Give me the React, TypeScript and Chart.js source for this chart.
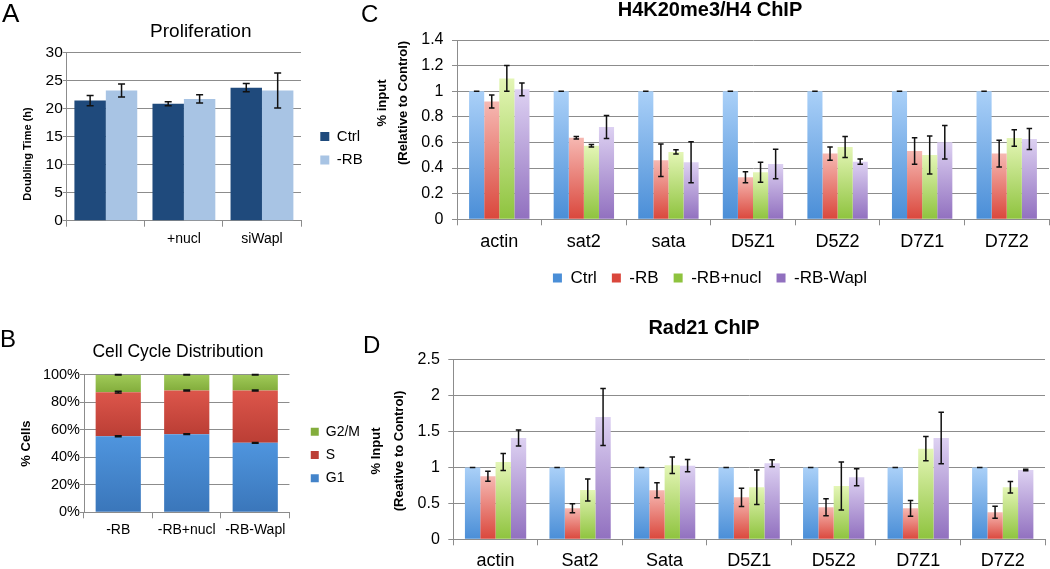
import React, { useEffect, useRef } from 'react';
import { Chart, registerables } from 'chart.js';

Chart.register(...registerables);

const FONT = "'Liberation Sans', Arial, Helvetica, sans-serif";
Chart.defaults.font.family = FONT;
Chart.defaults.color = '#000';

// ---------- Panel A: Proliferation ----------
const aCategories = ['', '+nucl', 'siWapl'];
const aCtrl = [21.4, 20.85, 23.7];
const aCtrlErr = [0.9, 0.36, 0.74];
const aRB = [23.2, 21.7, 23.2];
const aRBErr = [1.15, 0.74, 3.12];

// ---------- Panel B: Cell Cycle Distribution ----------
const bCategories = ['-RB', '-RB+nucl', '-RB-Wapl'];
const bG1 = [55.3, 56.8, 50.5];
const bG1Err = [0.4, 0.3, 0.3];
const bS = [32.1, 31.8, 38.1];
const bSErr = [0.6, 0.3, 0.3];
const bG2M = [12.6, 11.4, 11.4];
const bG2MErr = [0.2, 0.2, 0.2];

// ---------- Panel C: H4K20me3/H4 ChIP ----------
const cCategories = ['actin', 'sat2', 'sata', 'D5Z1', 'D5Z2', 'D7Z1', 'D7Z2'];
const cCtrl = [1, 1, 1, 1, 1, 1, 1];
const cCtrlErr = [0, 0, 0, 0, 0, 0, 0];
const cRB = [0.92, 0.637, 0.461, 0.328, 0.513, 0.533, 0.513];
const cRBErr = [0.05, 0.01, 0.126, 0.043, 0.052, 0.103, 0.105];
const cNucl = [1.1, 0.575, 0.526, 0.367, 0.565, 0.502, 0.635];
const cNuclErr = [0.1, 0.01, 0.017, 0.078, 0.082, 0.148, 0.064];
const cWapl = [1.015, 0.721, 0.445, 0.432, 0.45, 0.601, 0.627];
const cWaplErr = [0.05, 0.09, 0.16, 0.115, 0.02, 0.131, 0.082];

// ---------- Panel D: Rad21 ChIP ----------
const dCategories = ['actin', 'Sat2', 'Sata', 'D5Z1', 'D5Z2', 'D7Z1', 'D7Z2'];
const dCtrl = [1, 1, 1, 1, 1, 1, 1];
const dCtrlErr = [0, 0, 0, 0, 0, 0, 0];
const dRB = [0.877, 0.431, 0.682, 0.584, 0.445, 0.431, 0.376];
const dRBErr = [0.07, 0.063, 0.104, 0.128, 0.118, 0.109, 0.083];
const dNucl = [1.076, 0.686, 1.03, 0.724, 0.742, 1.262, 0.724];
const dNuclErr = [0.118, 0.153, 0.114, 0.239, 0.334, 0.169, 0.079];
const dWapl = [1.41, 1.702, 1.025, 1.058, 0.863, 1.41, 0.965];
const dWaplErr = [0.11, 0.397, 0.086, 0.049, 0.118, 0.36, 0.01];

const chipSeries = ['Ctrl', '-RB', '-RB+nucl', '-RB-Wapl'];

const GRID = '#8c8c8c';

function vGrad(top: string, bottom: string, mid: string) {
  return (c: any) => {
    if (c.type !== 'data') return mid;
    const chart = c.chart;
    const ys = chart.scales && chart.scales.y;
    if (!chart.chartArea || !ys) return mid;
    let base = 0;
    if (chart.options.scales && chart.options.scales.y && chart.options.scales.y.stacked) {
      for (let k = 0; k < c.datasetIndex; k++) base += chart.data.datasets[k].data[c.dataIndex];
    }
    const v = c.raw as number;
    const y0 = ys.getPixelForValue(base + v);
    const y1 = ys.getPixelForValue(base);
    if (!isFinite(y0) || !isFinite(y1) || Math.abs(y0 - y1) < 0.5) return mid;
    const g = chart.ctx.createLinearGradient(0, y0, 0, y1);
    g.addColorStop(0, top);
    g.addColorStop(1, bottom);
    return g;
  };
}

function errorBars(capW: number, lw: number) {
  return {
    id: 'errorBars',
    afterDatasetsDraw(chart: any) {
      const ctx = chart.ctx;
      ctx.save();
      ctx.strokeStyle = '#111';
      ctx.lineWidth = lw;
      chart.data.datasets.forEach((ds: any, di: number) => {
        if (!ds.errors) return;
        const meta = chart.getDatasetMeta(di);
        const ys = chart.scales[meta.yAxisID];
        meta.data.forEach((bar: any, i: number) => {
          const e = ds.errors[i];
          if (e == null) return;
          const d = Math.abs(ys.getPixelForValue(0) - ys.getPixelForValue(e));
          const x = bar.x;
          const y = bar.y;
          ctx.beginPath();
          ctx.moveTo(x, y - d);
          ctx.lineTo(x, y + d);
          ctx.moveTo(x - capW / 2, y - d);
          ctx.lineTo(x + capW / 2, y - d);
          ctx.moveTo(x - capW / 2, y + d);
          ctx.lineTo(x + capW / 2, y + d);
          ctx.stroke();
        });
      });
      ctx.restore();
    },
  };
}

// Rotated (vertical) axis title, placed relative to the chart area.
function yTitle(lines: string[], size: number, dx: number, dy: number, gap: number) {
  return {
    id: 'yTitle',
    afterDraw(chart: any) {
      const { ctx, chartArea } = chart;
      if (!chartArea) return;
      ctx.save();
      ctx.font = `bold ${size}px ${FONT}`;
      ctx.fillStyle = '#000';
      ctx.textAlign = 'center';
      ctx.textBaseline = 'middle';
      ctx.translate(chartArea.left + dx, (chartArea.top + chartArea.bottom) / 2 + dy);
      ctx.rotate(-Math.PI / 2);
      lines.forEach((l, i) => ctx.fillText(l, 0, i * gap));
      ctx.restore();
    },
  };
}

function padAxis(w: number) {
  return {
    type: 'linear',
    position: 'right',
    display: true,
    grid: { display: false, drawTicks: false },
    ticks: { display: false },
    border: { display: false },
    afterFit: (s: any) => {
      s.width = w;
    },
  };
}

function xAxis(h: number, size: number, pad: number, tickLen: number) {
  return {
    grid: { drawOnChartArea: false, drawTicks: true, tickLength: tickLen, color: GRID, lineWidth: 1 },
    border: { display: true, color: GRID, width: 1 },
    ticks: { font: { size }, padding: pad, color: '#000', maxRotation: 0, autoSkip: false },
    afterFit: (s: any) => {
      s.height = h;
    },
  };
}

const fmt1 = (v: any) => String(Math.round(Number(v) * 10) / 10);

function configA() {
  return {
    type: 'bar',
    data: {
      labels: aCategories,
      datasets: [
        { label: 'Ctrl', data: aCtrl, errors: aCtrlErr, backgroundColor: '#1f4a7c' },
        { label: '-RB', data: aRB, errors: aRBErr, backgroundColor: '#a8c4e4' },
      ],
    },
    options: {
      responsive: false,
      animation: false,
      devicePixelRatio: 1,
      layout: { padding: { left: 34.3, right: 7.7, top: 0, bottom: 3.5 } },
      datasets: { bar: { categoryPercentage: 0.805, barPercentage: 1, borderWidth: 0 } },
      plugins: {
        title: {
          display: true,
          text: 'Proliferation',
          color: '#000',
          font: { size: 19, weight: 'normal', lineHeight: 1.2 },
          padding: { top: 20.1, bottom: 9.4 },
        },
        legend: {
          position: 'right',
          labels: { boxWidth: 9, boxHeight: 9, padding: 8.5, color: '#000', font: { size: 15 } },
        },
        tooltip: { enabled: false },
      },
      scales: {
        x: xAxis(75.8, 14, 3.9, 6),
        y: {
          min: 0,
          max: 30,
          ticks: { stepSize: 5, font: { size: 15.5 }, padding: 0, color: '#000' },
          grid: { color: GRID, lineWidth: 1, tickLength: 4 },
          border: { display: true, color: GRID },
          afterFit: (s: any) => {
            s.width = 32.5;
          },
        },
        pad: padAxis(10.8),
      },
    },
    plugins: [errorBars(7, 1.5), yTitle(['Doubling Time (h)'], 11, -38.5, 17.5, 0)],
  };
}

function configB() {
  return {
    type: 'bar',
    data: {
      labels: bCategories,
      datasets: [
        { label: 'G1', data: bG1, errors: bG1Err, backgroundColor: vGrad('#4f95de', '#3a76ba', '#4587cf') },
        { label: 'S', data: bS, errors: bSErr, backgroundColor: vGrad('#dc564b', '#bb3e35', '#cf4a40') },
        { label: 'G2/M', data: bG2M, errors: bG2MErr, backgroundColor: vGrad('#a0ca58', '#83ad3c', '#93bd4a') },
      ],
    },
    options: {
      responsive: false,
      animation: false,
      devicePixelRatio: 1,
      layout: { padding: { left: 2.8, right: 6.8, top: 0, bottom: 0 } },
      datasets: { bar: { categoryPercentage: 0.66, barPercentage: 1, borderWidth: 0 } },
      plugins: {
        title: {
          display: true,
          text: 'Cell Cycle Distribution',
          color: '#000',
          font: { size: 17.5, weight: 'normal', lineHeight: 1.2 },
          padding: { top: 51.5, bottom: 12.3 },
        },
        legend: {
          position: 'right',
          reverse: true,
          labels: { boxWidth: 8, boxHeight: 8, padding: 9.3, color: '#000', font: { size: 14 } },
        },
        tooltip: { enabled: false },
      },
      scales: {
        x: { ...xAxis(107.7, 14, 3.6, 6), stacked: true },
        y: {
          stacked: true,
          min: 0,
          max: 100,
          ticks: { stepSize: 20, font: { size: 14.5 }, padding: 0, color: '#000', callback: (v: any) => v + '%' },
          grid: { color: GRID, lineWidth: 1, tickLength: 4 },
          border: { display: true, color: GRID },
          afterFit: (s: any) => {
            s.width = 91.2;
          },
        },
        pad: padAxis(12),
      },
    },
    plugins: [errorBars(7, 1.5), yTitle(['% Cells'], 13, -57.3, 0, 0)],
  };
}

function chipConfig(opts: any) {
  const { categories, values, errors, title, yTitleLines, yMax, yStep, pad, yWidth, yTitleDx, yTitleDy, yTitleGap, titlePad, catPct, xPad } = opts;
  const colors = [
    ['#aad0f8', '#4a8ed7', '#78aee8'],
    ['#f6b8b2', '#da473c', '#e97f76'],
    ['#e4f6b6', '#8ec33e', '#b9dd79'],
    ['#ddd1f2', '#9170bf', '#b7a0da'],
  ];
  return {
    type: 'bar',
    data: {
      labels: categories,
      datasets: chipSeries.map((name, k) => ({
        label: name,
        data: values[k],
        errors: errors[k],
        backgroundColor: vGrad(colors[k][0], colors[k][1], colors[k][2]),
      })),
    },
    options: {
      responsive: false,
      animation: false,
      devicePixelRatio: 1,
      layout: { padding: pad },
      datasets: { bar: { categoryPercentage: catPct, barPercentage: 1, borderWidth: 0 } },
      plugins: {
        title: {
          display: true,
          text: title,
          color: '#000',
          font: { size: 20, weight: 'bold', lineHeight: 1 },
          padding: titlePad,
        },
        legend: {
          position: 'bottom',
          labels: { boxWidth: 9, boxHeight: 9, padding: 15, color: '#000', font: { size: 17 } },
        },
        tooltip: { enabled: false },
      },
      scales: {
        x: xAxis(35.2, 18, xPad, 6),
        y: {
          min: 0,
          max: yMax,
          ticks: { stepSize: yStep, font: { size: 16 }, padding: 8.5, color: '#000', callback: fmt1 },
          grid: { color: GRID, lineWidth: 1, tickLength: 5 },
          border: { display: true, color: GRID },
          afterFit: (s: any) => {
            s.width = yWidth;
          },
        },
      },
    },
    plugins: [errorBars(5.5, 1.5), yTitle(yTitleLines, 13, yTitleDx, yTitleDy, yTitleGap)],
  };
}

function configC() {
  return chipConfig({
    categories: cCategories,
    values: [cCtrl, cRB, cNucl, cWapl],
    errors: [cCtrlErr, cRBErr, cNuclErr, cWaplErr],
    title: 'H4K20me3/H4 ChIP',
    yTitleLines: ['% input', '(Relative to Control)'],
    yMax: 1.4,
    yStep: 0.2,
    pad: { left: 31, right: 1, top: 0, bottom: 0.5 },
    yWidth: 86,
    yTitleDx: -74.5,
    yTitleDy: -26.7,
    yTitleGap: 21,
    titlePad: { top: 0, bottom: 20 },
    catPct: 0.714,
    xPad: 6.4,
  });
}

function configD() {
  return chipConfig({
    categories: dCategories,
    values: [dCtrl, dRB, dNucl, dWapl],
    errors: [dCtrlErr, dRBErr, dNuclErr, dWaplErr],
    title: 'Rad21 ChIP',
    yTitleLines: ['% Input', '(Reative to Control)'],
    yMax: 2.5,
    yStep: 0.5,
    pad: { left: 23, right: 5, top: 0, bottom: 0.5 },
    yWidth: 90.3,
    yTitleDx: -77,
    yTitleDy: 1.5,
    yTitleGap: 22.7,
    titlePad: { top: 28, bottom: 21.7 },
    catPct: 0.725,
    xPad: 5.4,
  });
}

function ChartBox(props: { left: number; top: number; width: number; height: number; make: () => any }) {
  const ref = useRef<HTMLCanvasElement>(null);
  useEffect(() => {
    const chart = new Chart(ref.current as HTMLCanvasElement, props.make());
    return () => chart.destroy();
  }, []);
  return (
    <canvas
      ref={ref}
      width={props.width}
      height={props.height}
      style={{ position: 'absolute', left: props.left, top: props.top, width: props.width, height: props.height }}
    />
  );
}

function Letter(props: { text: string; left: number; top: number; size: number }) {
  return (
    <div
      style={{
        position: 'absolute',
        left: props.left,
        top: props.top,
        fontSize: props.size,
        lineHeight: 1,
        fontFamily: FONT,
        color: '#000',
      }}
    >
      {props.text}
    </div>
  );
}

export default function App() {
  return (
    <div
      style={{
        position: 'fixed',
        left: 0,
        top: 0,
        width: 1050,
        height: 569,
        overflow: 'hidden',
        background: '#fff',
        fontFamily: FONT,
      }}
    >
      <ChartBox left={0} top={0} width={375} height={300} make={configA} />
      <ChartBox left={-10} top={290} width={380} height={330} make={configB} />
      <ChartBox left={340} top={0} width={710} height={297} make={configC} />
      <ChartBox left={340} top={290} width={710} height={327} make={configD} />
      <Letter text="A" left={2} top={0} size={26} />
      <Letter text="B" left={0} top={327} size={24} />
      <Letter text="C" left={361} top={2} size={24} />
      <Letter text="D" left={363} top={333} size={24} />
    </div>
  );
}
